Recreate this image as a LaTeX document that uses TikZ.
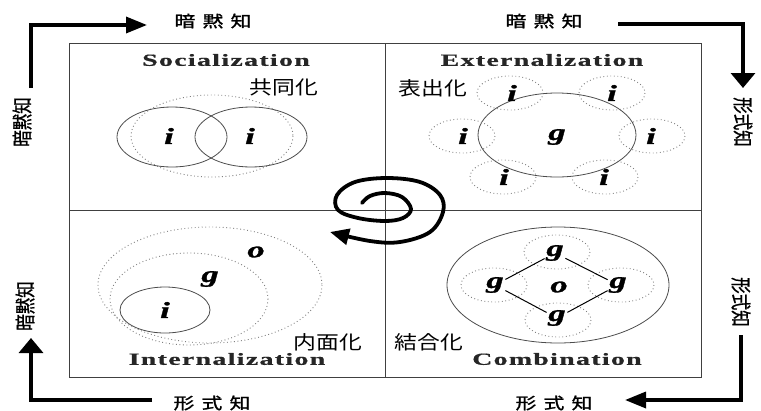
\documentclass[tikz,border=0pt]{standalone}
\usepackage{fontspec}
\setmainfont{Liberation Serif}
\newfontfamily\cjk{Noto Sans CJK JP}
\newfontfamily\cjkb[FakeBold=1.2,LetterSpace=35]{Noto Sans CJK JP}
\newfontfamily\cjkv[FakeBold=1]{Noto Sans CJK JP}
\newfontfamily\ttl[LetterSpace=5,FakeBold=0.6]{Liberation Serif}
\newfontfamily\varf[FakeBold=1.2]{Liberation Serif}
\usetikzlibrary{arrows.meta}
\begin{document}
\begin{tikzpicture}[x=1pt,y=-1pt,
  frame/.style={draw=black!75, line width=0.9pt},
  solidell/.style={draw=black!70, line width=0.8pt},
  dotell/.style={draw=black!50, line width=0.9pt, dash pattern=on 0.9pt off 2.6pt},
  bigline/.style={line width=3.4pt, line join=miter},
  harrow/.style={bigline, -{Triangle[length=21pt,width=16pt]}},
  varrow/.style={bigline, -{Triangle[length=15pt,width=24pt]}},
  ttlbl/.style={font=\ttl\bfseries\fontsize{17}{19}\selectfont, xscale=1.63, text=black!85, inner sep=0pt},
  jlbl/.style={font=\cjk\fontsize{19}{21}\selectfont, xscale=1.2, inner sep=0pt},
  cornerlbl/.style={font=\cjkb\fontsize{16}{18}\selectfont, xscale=1.3, inner sep=0pt},
  sidelbl/.style={font=\cjkv\fontsize{16.5}{18}\selectfont, inner sep=0pt},
  var/.style={font=\varf\bfseries\itshape\fontsize{23}{25}\selectfont, xscale=1.5, inner sep=1pt}]
\useasboundingbox (0,0) rectangle (761,410);

% frame
\draw[frame] (69,43) rectangle (701,377);
\draw[frame] (385,43) -- (385,377);
\draw[frame] (69,210) -- (701,210);

% titles
\node[ttlbl] (tsoc) at (226,60) {Socialization};
\node[ttlbl] (text) at (542,60) {Externalization};
\node[ttlbl] (tint) at (227,359) {Internalization};
\node[ttlbl] (tcom) at (557,359) {Combination};

% japanese labels
\node[jlbl] (jsoc) at (284,87) {共同化};
\node[jlbl] (jext) at (433,88) {表出化};
\node[jlbl] (jint) at (328,342) {内面化};
\node[jlbl] (jcom) at (429,342) {結合化};

% Socialization
\draw[dotell] (212,136) ellipse [x radius=81, y radius=41];
\draw[solidell] (172,137) ellipse [x radius=55, y radius=30];
\draw[solidell] (251,137) ellipse [x radius=56, y radius=30];
\node[var] (si1) at (169,136) {i};
\node[var] (si2) at (250,136) {i};

% Externalization
\draw[solidell] (557,135) ellipse [x radius=79, y radius=42];
\foreach \p in {(510,93),(612,93),(462,136),(652,136),(503,177),(605,177)}
  \draw[dotell] \p ellipse [x radius=33, y radius=17];
\node[var] (eg) at (557,137) {g};
\node[var] (ei1) at (512,93) {i};
\node[var] (ei2) at (612,93) {i};
\node[var] (ei3) at (463,136) {i};
\node[var] (ei4) at (651,136) {i};
\node[var] (ei5) at (504,177) {i};
\node[var] (ei6) at (604,177) {i};

% Internalization
\draw[dotell] (210,285) ellipse [x radius=112, y radius=58];
\draw[dotell] (189,299) ellipse [x radius=79, y radius=46];
\draw[solidell] (165,310) ellipse [x radius=45, y radius=23];
\node[var] (io) at (256,252) {o};
\node[var] (ig) at (210,279) {g};
\node[var] (ii) at (165,310) {i};

% Combination
\draw[solidell] (558,285) ellipse [x radius=111, y radius=58];
\foreach \p in {(557,252),(494,285),(621,285),(558,320)}
  \draw[dotell] \p ellipse [x radius=33, y radius=17];
\node[var] (co) at (559,287) {o};
\node[var] (cgt) at (555,253) {g};
\node[var] (cgl) at (495,285) {g};
\node[var] (cgr) at (618,285) {g};
\node[var] (cgb) at (557,318) {g};
\draw[line width=1pt] (cgt) -- (cgl);
\draw[line width=1pt] (cgt) -- (cgr);
\draw[line width=1pt] (cgl) -- (cgb);
\draw[line width=1pt] (cgr) -- (cgb);

% spiral
\draw[line width=3.8pt, line cap=round, -{Triangle[length=19pt,width=16pt]}]
  plot[smooth, tension=0.6] coordinates {(362,203) (370,196) (385,193) (402,197) (411,209) (403,218) (385,221) (358,218) (338,210) (337,195) (355,182) (387,178) (420,182) (440,195) (443,212) (430,232) (400,242) (370,241) (330,232)};

% corner arrows
\coordinate (tlA) at (31,88);
\coordinate (tlB) at (147,25);
\draw[harrow] (tlA) |- (tlB);
\coordinate (trA) at (618,24);
\coordinate (trB) at (743,88);
\draw[varrow] (trA) -| (trB);
\coordinate (blA) at (152,400);
\coordinate (blB) at (31,338);
\draw[varrow] (blA) -| (blB);
\coordinate (brA) at (741,335);
\coordinate (brB) at (625,400);
\draw[harrow] (brA) |- (brB);

% corner labels
\node[cornerlbl] (ltop) at (213,21) {暗黙知};
\node[cornerlbl] (rtop) at (544,21) {暗黙知};
\node[cornerlbl] (lbot) at (212,403) {形式知};
\node[cornerlbl] (rbot) at (554,403) {形式知};
\node[sidelbl, xscale=1.25, rotate=90] (lup) at (22,122) {暗黙知};
\node[sidelbl, xscale=1.25, rotate=90] (llo) at (25,306) {暗黙知};
\node[sidelbl, xscale=1.25, rotate=-90] (rup) at (743,122) {形式知};
\node[sidelbl, xscale=1.25, rotate=-90] (rlo) at (741,302) {形式知};
\end{tikzpicture}
\end{document}
